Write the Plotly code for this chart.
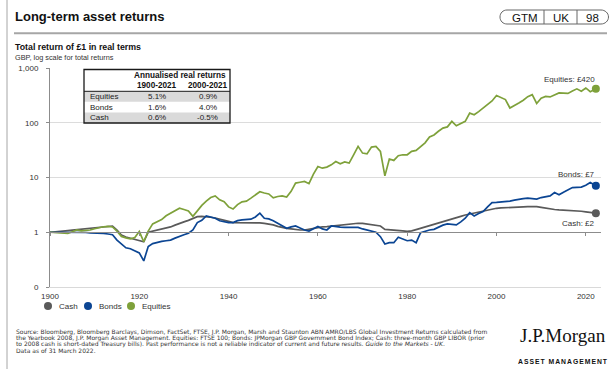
import math
import plotly.graph_objects as go

# ---------------- data ----------------
years = list(range(1900, 2022)) + [2022.25]

cash = [
    1.00, 1.01, 1.03, 1.05, 1.07, 1.09, 1.11, 1.13, 1.15, 1.17,
    1.19, 1.22, 1.25, 1.28, 1.30, 1.10, 0.89, 0.82, 0.78, 0.74,
    0.72, 0.67, 1.00, 1.05, 1.10, 1.14, 1.18, 1.25, 1.35, 1.46,
    1.55, 1.65, 1.80, 1.93, 1.95, 1.93, 1.88, 1.82, 1.75, 1.68,
    1.58, 1.50, 1.50, 1.50, 1.50, 1.50, 1.49, 1.48, 1.45, 1.42,
    1.36, 1.28, 1.22, 1.18, 1.15, 1.12, 1.10, 1.10, 1.14, 1.20,
    1.23, 1.25, 1.27, 1.30, 1.32, 1.35, 1.38, 1.41, 1.44, 1.46,
    1.45, 1.42, 1.38, 1.34, 1.30, 1.13, 1.12, 1.09, 1.07, 1.06,
    1.04, 1.06, 1.12, 1.18, 1.25, 1.32, 1.40, 1.48, 1.57, 1.63,
    1.72, 1.82, 1.95, 2.07, 2.15, 2.25, 2.38, 2.48, 2.58, 2.68,
    2.74, 2.78, 2.82, 2.85, 2.87, 2.89, 2.91, 2.93, 2.94, 2.94,
    2.85, 2.75, 2.66, 2.60, 2.56, 2.54, 2.52, 2.50, 2.49, 2.42,
    2.36, 2.30,
    2.23,
]

bonds = [
    1.00, 1.00, 0.99, 0.99, 1.00, 0.99, 1.00, 1.01, 0.99, 0.97,
    0.97, 0.96, 0.95, 0.93, 0.90, 0.72, 0.60, 0.52, 0.50, 0.46,
    0.42, 0.30, 0.55, 0.62, 0.66, 0.68, 0.70, 0.72, 0.78, 0.85,
    0.90, 0.96, 1.10, 1.50, 1.65, 1.99, 1.90, 1.80, 1.62, 1.55,
    1.50, 1.50, 1.63, 1.68, 1.70, 1.73, 1.90, 2.23, 1.80, 1.75,
    1.62, 1.46, 1.30, 1.18, 1.25, 1.30, 1.20, 1.10, 1.05, 1.15,
    1.27, 1.15, 1.10, 1.30, 1.25, 1.24, 1.23, 1.22, 1.23, 1.23,
    1.15, 1.10, 1.03, 1.00, 0.83, 0.61, 0.645, 0.645, 0.81, 0.75,
    0.70, 0.72, 0.645, 0.98, 1.05, 1.10, 1.13, 1.25, 1.35, 1.42,
    1.40, 1.36, 1.55, 1.80, 2.28, 1.99, 2.20, 2.38, 2.90, 3.48,
    3.50, 3.55, 3.63, 3.70, 3.85, 4.02, 4.10, 4.19, 4.10, 4.02,
    4.30, 4.49, 4.60, 5.31, 4.82, 5.40, 5.95, 6.55, 6.60, 6.66,
    7.20, 8.10,
    7.05,
]

equities = [
    1.00, 0.98, 0.96, 0.94, 0.95, 1.02, 1.10, 1.06, 1.08, 1.10,
    1.16, 1.22, 1.26, 1.28, 1.25, 1.05, 0.84, 0.79, 0.76, 0.80,
    1.03, 0.67, 1.05, 1.42, 1.55, 1.70, 2.00, 2.20, 2.50, 2.75,
    2.60, 2.45, 1.95, 2.45, 3.10, 3.70, 4.30, 4.62, 3.90, 3.60,
    2.90, 2.65, 3.20, 3.60, 3.70, 4.20, 4.80, 5.50, 5.20, 5.00,
    4.25, 4.50, 4.60, 4.40, 5.60, 7.90, 8.20, 8.45, 7.70, 11.5,
    15.9, 14.8, 15.5, 17.0, 19.6, 17.8, 19.2, 18.3, 26.0, 37.0,
    27.9, 27.0, 36.0, 37.0, 30.0, 10.7, 21.8, 20.5, 25.0, 26.0,
    26.0, 30.0, 31.2, 36.0, 43.0, 55.0, 60.0, 70.0, 80.0, 84.0,
    106, 88, 97, 106, 150, 140, 160, 186, 210, 250,
    314, 290, 265, 186, 205, 230, 258, 300, 326, 225,
    280, 303, 296, 320, 350, 347, 343, 380, 416, 376,
    432, 370,
    420,
]

series_names = ["Cash", "Bonds", "Equities"]
series_values = [cash, bonds, equities]
series_colors = ["#5A5A5A", "#0B4593", "#7EA13A"]
end_labels = ["Cash: £2", "Bonds: £7", "Equities: £420"]

x_ticks = [1900, 1920, 1940, 1960, 1980, 2000, 2020]
y_ticks = [0.1, 1, 10, 100, 1000]
y_tick_text = ["0", "1", "10", "100", "1,000"]

table_header = "Annualised real returns"
table_periods = ["1900-2021", "2000-2021"]
table_assets = ["Equities", "Bonds", "Cash"]
table_1900 = ["5.1%", "1.6%", "0.6%"]
table_2000 = ["0.9%", "4.0%", "-0.5%"]

title_text = "Long-term asset returns"
subtitle_text = "Total return of £1 in real terms"
unit_text = "GBP, log scale for total returns"
badge_text = ["GTM", "UK", "98"]
source_lines = [
    "Source: Bloomberg, Bloomberg Barclays, Dimson, FactSet, FTSE, J.P. Morgan, Marsh and Staunton ABN AMRO/LBS Global Investment Returns calculated from",
    "the Yearbook 2008, J.P. Morgan Asset Management. Equities: FTSE 100; Bonds: JPMorgan GBP Government Bond Index; Cash: three-month GBP LIBOR (prior",
    "to 2008 cash is short-dated Treasury bills). Past performance is not a reliable indicator of current and future results. <i>Guide to the Markets - UK</i>.",
    "Data as of 31 March 2022.",
]

# ---------------- layout helpers (pixel -> paper) ----------------
W, H = 615, 369
ML, MR, MT, MB = 50, 14, 68, 82
PW, PH = W - ML - MR, H - MT - MB


def px(x):
    return (x - ML) / PW


def py(y):
    return (H - MB - y) / PH


FONT = "Liberation Sans, Arial, sans-serif"
TXT = "#262626"

fig = go.Figure()

# lines
for name, vals, col in zip(series_names, series_values, series_colors):
    fig.add_trace(go.Scatter(x=years, y=vals, mode="lines", name=name,
                             line=dict(color=col, width=1.7),
                             showlegend=False, hoverinfo="x+y"))
# end dots
for name, vals, col in zip(series_names, series_values, series_colors):
    fig.add_trace(go.Scatter(x=[years[-1]], y=[vals[-1]], mode="markers", name=name,
                             marker=dict(color=col, size=8), showlegend=False,
                             cliponaxis=False))
# invisible trace for the baseline axis
fig.add_trace(go.Scatter(x=[years[0]], y=[cash[0]], xaxis="x2", mode="markers",
                         marker=dict(opacity=0), showlegend=False, hoverinfo="skip"))

annotations = []
shapes = []

# end labels
shift = {"Cash": (-4, "top"), "Bonds": (5, "bottom"), "Equities": (3, "bottom")}
for name, vals, lab in zip(series_names, series_values, end_labels):
    ys, ya = shift[name]
    annotations.append(dict(x=years[-1], y=math.log10(vals[-1]), xref="x", yref="y",
                            text=lab, showarrow=False, xanchor="right", yanchor=ya,
                            yshift=ys, xshift=1, font=dict(size=8, color="#333333", family=FONT)))

# legend (circle + name per series)
legend_x = [48, 88, 131]
for name, col, lx in zip(series_names, series_colors, legend_x):
    shapes.append(dict(type="circle", xref="paper", yref="paper",
                       x0=px(lx - 4), x1=px(lx + 4), y0=py(306 + 4), y1=py(306 - 4),
                       fillcolor=col, line=dict(width=0), layer="above"))
    annotations.append(dict(x=px(lx + 8.5), y=py(306.5), xref="paper", yref="paper", text=name,
                            showarrow=False, xanchor="left", yanchor="middle",
                            font=dict(size=8, color="#333333", family=FONT)))

# title, subtitle
annotations.append(dict(x=px(13), y=py(17), xref="paper", yref="paper",
                        text="<b>" + title_text + "</b>",
                        showarrow=False, xanchor="left", yanchor="middle",
                        font=dict(size=13, color="#111111", family=FONT)))
annotations.append(dict(x=px(13), y=py(47), xref="paper", yref="paper",
                        text="<b>" + subtitle_text + "</b>", showarrow=False,
                        xanchor="left", yanchor="middle",
                        font=dict(size=8.8, color="#111111", family=FONT)))
annotations.append(dict(x=px(13), y=py(57.5), xref="paper", yref="paper", text=unit_text,
                        showarrow=False, xanchor="left", yanchor="middle",
                        font=dict(size=7.3, color="#333333", family=FONT)))

# badge
badge_x = [525, 560.5, 592.5]
for t, bx in zip(badge_text, badge_x):
    annotations.append(dict(x=px(bx), y=py(17.5), xref="paper", yref="paper", text=t,
                            showarrow=False, xanchor="center", yanchor="middle",
                            font=dict(size=11.5, color="#111111", family=FONT)))


def P(x, y):
    return f"{px(x):.5f},{py(y):.5f}"


badge_path = ("M " + P(507, 10) + " L " + P(601, 10) + " C " + P(605, 10) + " " + P(608.5, 13)
              + " " + P(608.5, 17) + " C " + P(608.5, 21) + " " + P(605, 24) + " " + P(601, 24)
              + " L " + P(507, 24) + " C " + P(503, 24) + " " + P(500, 21) + " " + P(500, 17)
              + " C " + P(500, 13) + " " + P(503, 10) + " " + P(507, 10) + " Z")
shapes.append(dict(type="path", path=badge_path, xref="paper", yref="paper",
                   line=dict(color="#666666", width=1), layer="above"))
for dx in [544, 577]:
    shapes.append(dict(type="line", xref="paper", yref="paper", x0=px(dx), x1=px(dx),
                       y0=py(10), y1=py(24), line=dict(color="#666666", width=1)))

# title rule and left border
shapes.append(dict(type="line", xref="paper", yref="paper", x0=px(14), x1=px(607),
                   y0=py(33.3), y1=py(33.3), line=dict(color="#A6A6A6", width=2)))
shapes.append(dict(type="line", xref="paper", yref="paper", x0=px(7), x1=px(7),
                   y0=py(0), y1=py(369), line=dict(color="#A6A6A6", width=1)))

# table
TL, TR, TT, TB = 84, 230, 69.5, 123
row_edges = [91.3, 101.8, 112.6, 123]
shapes.append(dict(type="rect", xref="paper", yref="paper", x0=px(TL), x1=px(TR),
                   y0=py(TT), y1=py(TB), fillcolor="white", line=dict(width=0), layer="above"))
for i in [0, 2]:
    shapes.append(dict(type="rect", xref="paper", yref="paper", x0=px(TL), x1=px(TR),
                       y0=py(row_edges[i]), y1=py(row_edges[i + 1]), fillcolor="#DADADA",
                       line=dict(width=0), layer="above"))
shapes.append(dict(type="line", xref="paper", yref="paper", x0=px(TL), x1=px(TR),
                   y0=py(row_edges[0]), y1=py(row_edges[0]), line=dict(color="#1a1a1a", width=1),
                   layer="above"))
shapes.append(dict(type="rect", xref="paper", yref="paper", x0=px(TL), x1=px(TR),
                   y0=py(TT), y1=py(TB), line=dict(color="#1a1a1a", width=1.3), layer="above"))

annotations.append(dict(x=px(179.5), y=py(75.5), xref="paper", yref="paper",
                        text="<b>" + table_header + "</b>", showarrow=False,
                        xanchor="center", yanchor="middle",
                        font=dict(size=8.2, color="#111111", family=FONT)))
col_x = [157, 207.5]
for cx, per in zip(col_x, table_periods):
    annotations.append(dict(x=px(cx), y=py(85), xref="paper", yref="paper",
                            text="<b>" + per + "</b>", showarrow=False,
                            xanchor="center", yanchor="middle",
                            font=dict(size=8.2, color="#111111", family=FONT)))
for i, (a, v1, v2) in enumerate(zip(table_assets, table_1900, table_2000)):
    ry = (row_edges[i] + row_edges[i + 1]) / 2
    annotations.append(dict(x=px(87.5), y=py(ry), xref="paper", yref="paper", text=a,
                            showarrow=False, xanchor="left", yanchor="middle",
                            font=dict(size=8, color="#222222", family=FONT)))
    for cx, v in zip(col_x, [v1, v2]):
        annotations.append(dict(x=px(cx), y=py(ry), xref="paper", yref="paper", text=v,
                                showarrow=False, xanchor="center", yanchor="middle",
                                font=dict(size=8, color="#222222", family=FONT)))

# source lines
for i, line in enumerate(source_lines):
    annotations.append(dict(x=px(13.5), y=py(331.5 + 6.2 * i), xref="paper", yref="paper",
                            text=line, showarrow=False, xanchor="left", yanchor="middle",
                            font=dict(size=6.0, color="#333333",
                                      family="DejaVu Sans, Liberation Sans, sans-serif")))

# logo
annotations.append(dict(x=px(563), y=py(335), xref="paper", yref="paper", text="J.P.Morgan",
                        showarrow=False, xanchor="center", yanchor="middle",
                        font=dict(size=19, color="#111111",
                                  family="Liberation Serif, Times New Roman, serif")))
annotations.append(dict(x=px(562.5), y=py(361.5), xref="paper", yref="paper",
                        text="<b><span style='letter-spacing:1px'>ASSET MANAGEMENT</span></b>",
                        showarrow=False, xanchor="center", yanchor="middle",
                        font=dict(size=6.8, color="#111111", family=FONT)))

xr = [1900, 1900 + PW / 4.465]

fig.update_layout(
    width=W, height=H,
    margin=dict(l=ML, r=MR, t=MT, b=MB, pad=0),
    paper_bgcolor="white", plot_bgcolor="white",
    font=dict(family=FONT, size=8, color=TXT),
    showlegend=False,
    hovermode=False,
    xaxis=dict(range=xr, tickvals=x_ticks, showgrid=False, zeroline=False,
               showline=True, linecolor="#D9D9D9", linewidth=1, ticks="",
               tickfont=dict(size=8, color="#333333"), ticklabelstandoff=1),
    xaxis2=dict(range=xr, overlaying="x", anchor="free", position=0.25, side="bottom",
                showline=True, linecolor="#8C8C8C", linewidth=1.3, ticks="outside",
                ticklen=3, tickcolor="#8C8C8C", tickwidth=1, tickvals=x_ticks,
                showticklabels=False, showgrid=False, zeroline=False),
    yaxis=dict(type="log", range=[-1, 3], tickvals=y_ticks, ticktext=y_tick_text,
               showgrid=True, gridcolor="#DCDCDC", gridwidth=1, zeroline=False,
               showline=True, linecolor="#8C8C8C", linewidth=1, ticks="outside",
               ticklen=3, tickcolor="#8C8C8C", ticklabelstandoff=6,
               tickfont=dict(size=8, color="#333333")),
    annotations=annotations,
    shapes=shapes,
)

fig.write_html("out.html", config={"displayModeBar": False},
               post_script="document.body.style.margin='0';document.body.style.overflow='hidden';")
